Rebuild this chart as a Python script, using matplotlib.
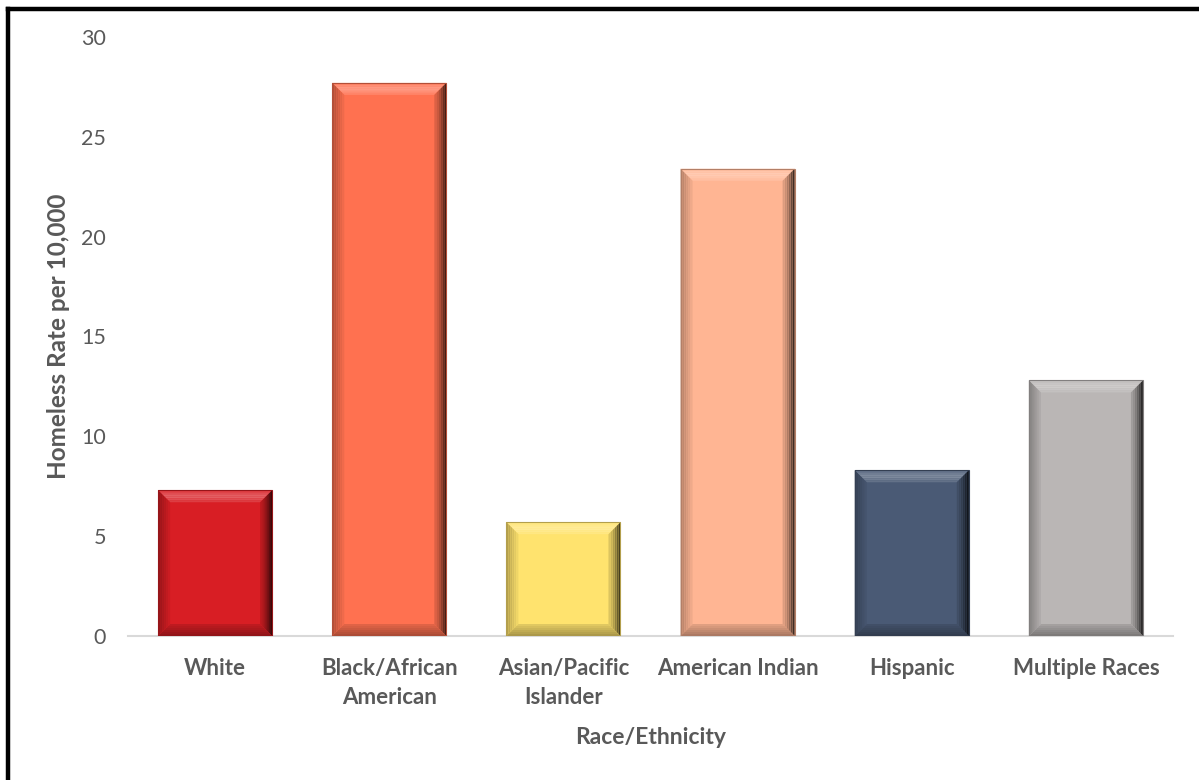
import matplotlib
matplotlib.use("Agg")
import matplotlib.pyplot as plt
from matplotlib.patches import Polygon, Rectangle
from matplotlib.lines import Line2D
import matplotlib.colors as mcolors
import numpy as np

categories = ["White", "Black/African\nAmerican", "Asian/Pacific\nIslander",
              "American Indian", "Hispanic", "Multiple Races"]
rates = [7.3, 27.7, 5.7, 23.4, 8.3, 12.8]
bar_colors = ["#d81e24", "#ff7150", "#ffe36e", "#ffb593", "#4a5a75", "#bab6b5"]
y_ticks = [0, 5, 10, 15, 20, 25, 30]

TEXT = "#595959"
FONT = ["Lato", "DejaVu Sans"]
plt.rcParams["font.family"] = FONT

fig = plt.figure(figsize=(11.99, 7.80), dpi=100)
ax = fig.add_axes([0.1068, 0.1846, 0.8715, 0.768])

x = np.arange(len(categories))
width = 0.655
bars = ax.bar(x, rates, width=width, color=bar_colors, zorder=2)
ax.set_xlim(-0.5, len(categories) - 0.5)
ax.set_ylim(0, 30)


def blend(c, target, t):
    a = np.array(mcolors.to_rgb(c))
    b = np.array(mcolors.to_rgb(target))
    return tuple(a + (b - a) * t)


# bevelled edges, sized in pixels and converted to data units
fig.canvas.draw()
px_x = (ax.get_xlim()[1] - ax.get_xlim()[0]) / ax.bbox.width
px_y = (ax.get_ylim()[1] - ax.get_ylim()[0]) / ax.bbox.height
depth = 12
steps = 6
for rect, col in zip(bars, bar_colors):
    x0, y0 = rect.get_x(), rect.get_y()
    x1, y1 = x0 + rect.get_width(), y0 + rect.get_height()
    dx, dy = depth * px_x, depth * px_y
    for i in range(steps):
        f0, f1 = i / steps, (i + 1) / steps
        t = 1 - (i + 0.5) / steps
        # top band: light highlight
        top = [(x0 + dx * f0, y1 - dy * f0), (x1 - dx * f0, y1 - dy * f0),
               (x1 - dx * f1, y1 - dy * f1), (x0 + dx * f1, y1 - dy * f1)]
        ax.add_patch(Polygon(top, closed=True, lw=0, zorder=3,
                             facecolor=blend(col, "white", 0.10 + 0.22 * (1 - abs(t - 0.5) * 2))))
        # right band: dark shading toward the edge
        right = [(x1 - dx * f0, y1 - dy * f0), (x1 - dx * f0, y0 + dy * f0),
                 (x1 - dx * f1, y0 + dy * f1), (x1 - dx * f1, y1 - dy * f1)]
        ax.add_patch(Polygon(right, closed=True, lw=0, zorder=3,
                             facecolor=blend(col, "black", 0.12 + 0.72 * t ** 1.5)))
        # bottom band
        bottom = [(x0 + dx * f0, y0 + dy * f0), (x1 - dx * f0, y0 + dy * f0),
                  (x1 - dx * f1, y0 + dy * f1), (x0 + dx * f1, y0 + dy * f1)]
        ax.add_patch(Polygon(bottom, closed=True, lw=0, zorder=3,
                             facecolor=blend(col, "black", 0.10 + 0.25 * t)))
        # left band
        left = [(x0 + dx * f0, y0 + dy * f0), (x0 + dx * f0, y1 - dy * f0),
                (x0 + dx * f1, y1 - dy * f1), (x0 + dx * f1, y0 + dy * f1)]
        ax.add_patch(Polygon(left, closed=True, lw=0, zorder=3,
                             facecolor=blend(col, "black", 0.04 + 0.28 * t)))
    # thin outline
    ax.add_patch(Rectangle((x0, y0), x1 - x0, y1 - y0, fill=False,
                           edgecolor=blend(col, "black", 0.3), lw=0.8, zorder=4))

for s in ["top", "right", "left"]:
    ax.spines[s].set_visible(False)
ax.spines["bottom"].set_color("#d9d9d9")
ax.spines["bottom"].set_linewidth(1.5)
ax.spines["bottom"].set_zorder(1)

ax.set_yticks(y_ticks)
ax.set_yticklabels([str(v) for v in y_ticks], fontsize=15.5, color=TEXT)
ax.set_xticks(x)
ax.set_xticklabels(categories, fontsize=16, color=TEXT, fontweight="bold",
                   linespacing=1.45)
ax.tick_params(axis="y", length=0, pad=16)
ax.tick_params(axis="x", length=0, pad=16)

ax.set_ylabel("Homeless Rate per 10,000", fontsize=17.5, fontweight="bold",
              color=TEXT, labelpad=8)
ax.set_xlabel("Race/Ethnicity", fontsize=16.5, fontweight="bold", color=TEXT,
              labelpad=14)

# frame lines along the top and left edges of the figure
fig.add_artist(Line2D([0.0065, 1.0], [0.9885, 0.9885], color="black", lw=3.2,
                      transform=fig.transFigure))
fig.add_artist(Line2D([0.0065, 0.0065], [0.0, 0.9885], color="black", lw=3.2,
                      transform=fig.transFigure))

fig.savefig("out.png", dpi=100)
